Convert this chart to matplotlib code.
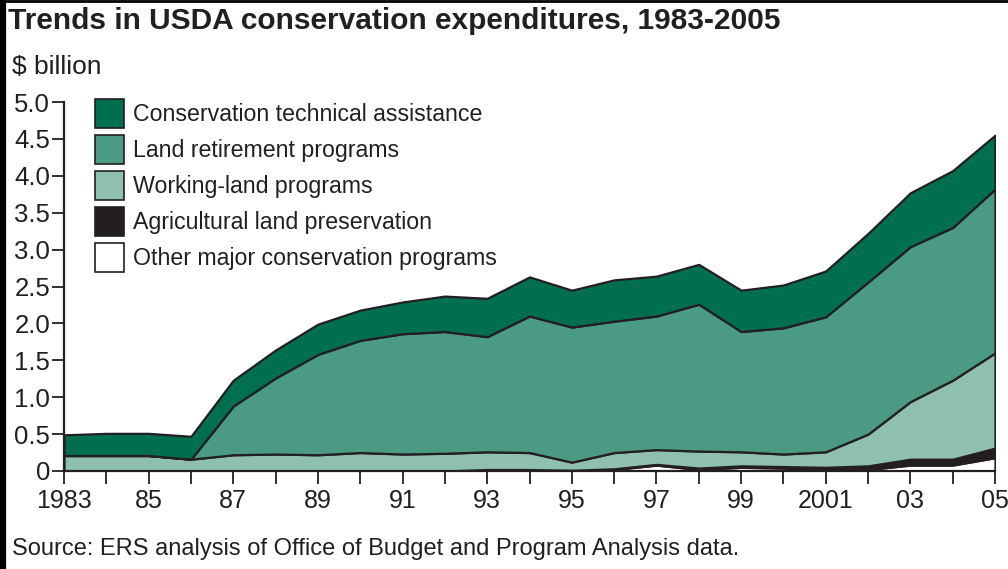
import matplotlib
matplotlib.use("Agg")
import matplotlib.pyplot as plt
from matplotlib.patches import Patch
from matplotlib.lines import Line2D

years = list(range(1983, 2006))
other = [0.0, 0.0, 0.0, 0.0, 0.0, 0.0, 0.0, 0.0, 0.0, 0.0, 0.01, 0.01, 0.0,
         0.02, 0.08, 0.02, 0.05, 0.04, 0.02, 0.02, 0.08, 0.08, 0.18]
ag_preservation = [0.0, 0.0, 0.0, 0.0, 0.0, 0.0, 0.0, 0.0, 0.0, 0.0, 0.01, 0.01, 0.01,
                   0.01, 0.01, 0.02, 0.02, 0.02, 0.03, 0.05, 0.08, 0.08, 0.13]
working_land = [0.21, 0.21, 0.21, 0.16, 0.22, 0.23, 0.22, 0.25, 0.23, 0.24, 0.24, 0.23, 0.11,
                0.22, 0.20, 0.23, 0.19, 0.17, 0.21, 0.43, 0.78, 1.07, 1.29]
land_retirement = [0.0, 0.0, 0.0, 0.0, 0.66, 1.03, 1.36, 1.52, 1.63, 1.65, 1.56, 1.85, 1.83,
                   1.78, 1.81, 1.99, 1.63, 1.71, 1.83, 2.06, 2.10, 2.07, 2.22]
tech_assistance = [0.28, 0.30, 0.30, 0.31, 0.35, 0.38, 0.41, 0.41, 0.43, 0.48, 0.52, 0.53, 0.50,
                   0.56, 0.54, 0.54, 0.56, 0.58, 0.62, 0.66, 0.73, 0.77, 0.73]

series_labels = ["Conservation technical assistance", "Land retirement programs",
                 "Working-land programs", "Agricultural land preservation",
                 "Other major conservation programs"]
colors = ["#006f50", "#4b9a84", "#8fbfb0", "#231f20", "#ffffff"]

yticks = [0, 0.5, 1.0, 1.5, 2.0, 2.5, 3.0, 3.5, 4.0, 4.5, 5.0]
ytick_labels = ["0", "0.5", "1.0", "1.5", "2.0", "2.5", "3.0", "3.5", "4.0", "4.5", "5.0"]
xtick_major = years[::2]
xtick_labels = ["1983", "85", "87", "89", "91", "93", "95", "97", "99", "2001", "03", "05"]

plt.rcParams['font.family'] = ['Liberation Sans', 'DejaVu Sans']
narrow = ['Liberation Sans Narrow', 'Liberation Sans', 'DejaVu Sans']
edge = "#231f20"
text_c = "#231f20"

fig = plt.figure(figsize=(10.08, 5.69), dpi=100)
W, H = 1008, 569
ax = fig.add_axes([64 / W, 98 / H, 931 / W, 369 / H])

ax.stackplot(years, other, ag_preservation, working_land, land_retirement, tech_assistance,
             colors=[colors[4], colors[3], colors[2], colors[1], colors[0]],
             edgecolor=edge, linewidth=1.6)

ax.set_xlim(1983, 2005)
ax.set_ylim(0, 5.0)
ax.set_yticks(yticks)
ax.set_yticklabels(ytick_labels)
ax.set_xticks(years)
ax.set_xticklabels([xtick_labels[xtick_major.index(y)] if y in xtick_major else "" for y in years])

for s in ["top", "right"]:
    ax.spines[s].set_visible(False)
for s in ["left", "bottom"]:
    ax.spines[s].set_color(edge)
    ax.spines[s].set_linewidth(1.6)
ax.spines["bottom"].set_zorder(5)

ax.tick_params(axis="y", direction="out", length=9, width=1.3, color=edge, pad=1,
               labelsize=18.5, labelcolor=text_c)
ax.tick_params(axis="x", direction="out", length=9, width=1.3, color=edge, pad=4,
               labelsize=18, labelcolor=text_c)
for lab in ax.get_xticklabels():
    lab.set_family(narrow)
    lab.set_fontsize(18)

handles = [Patch(facecolor=c, edgecolor=edge, linewidth=1.2) for c in colors]
leg = ax.legend(handles, series_labels, loc="upper left",
                bbox_to_anchor=((95 - 64) / 931, 1 + 3 / 369),
                frameon=False, fontsize=16.7, handlelength=1.25, handleheight=1.55,
                labelspacing=0.3, handletextpad=0.4, borderpad=0, borderaxespad=0)
for t in leg.get_texts():
    t.set_color(text_c)

fig.text(8 / W, 1 - 21 / H, "Trends in USDA conservation expenditures, 1983-2005",
         fontsize=21.5, fontweight="bold", color=text_c, va="center", ha="left")
fig.text(12 / W, 1 - 67 / H, "$ billion", fontsize=19, color=text_c, va="center", ha="left")
fig.text(12 / W, 1 - 549 / H, "Source: ERS analysis of Office of Budget and Program Analysis data.",
         fontsize=17, color=text_c, va="center", ha="left", family=narrow)

# figure frame (left and top)
fig.add_artist(Line2D([3 / W, 3 / W], [0, 1], color="black", linewidth=4.5,
                      transform=fig.transFigure))
fig.add_artist(Line2D([0, 1], [1 - 1 / H, 1 - 1 / H], color="black", linewidth=2,
                      transform=fig.transFigure))

fig.savefig("out.png", dpi=100)
